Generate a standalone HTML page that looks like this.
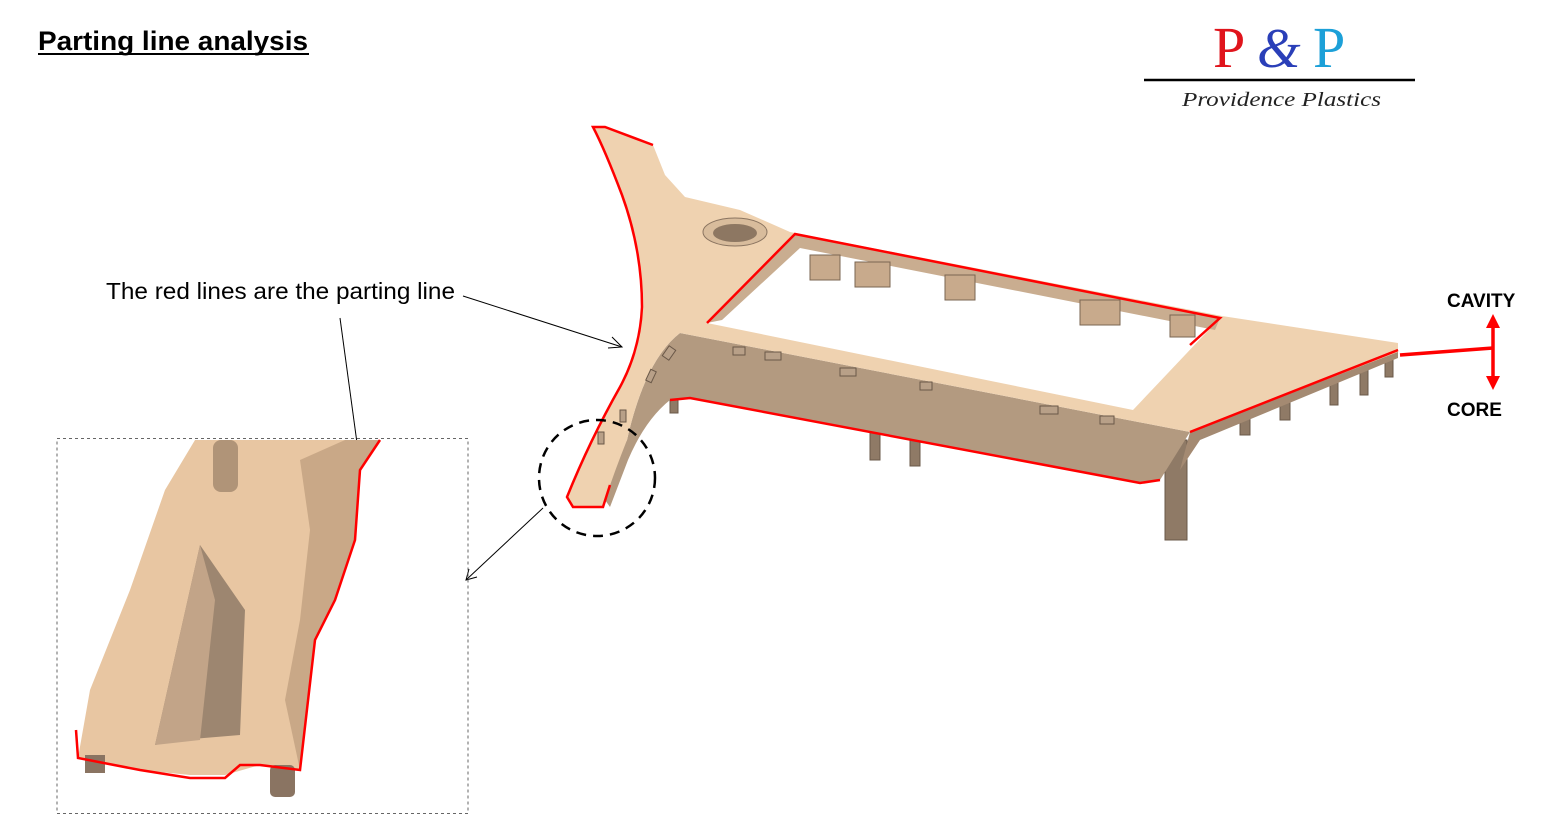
<!DOCTYPE html>
<html><head><meta charset="utf-8"><style>
html,body{margin:0;padding:0;background:#fff;width:1564px;height:827px;overflow:hidden}
svg{display:block}
</style></head><body>
<svg width="1564" height="827" viewBox="0 0 1564 827" xmlns="http://www.w3.org/2000/svg">
<text x="38" y="50" font-family="Liberation Sans, sans-serif" font-size="27" font-weight="bold" fill="#000" textLength="270" lengthAdjust="spacingAndGlyphs">Parting line analysis</text>
<line x1="38" y1="54" x2="309" y2="54" stroke="#000" stroke-width="2"/>

<!-- logo -->
<text x="1213" y="67" font-family="Liberation Serif, serif" font-size="58" fill="#e0141c">P</text>
<text x="1257" y="67" font-family="Liberation Serif, serif" font-size="56" font-style="italic" fill="#2a3fb8">&amp;</text>
<text x="1313" y="67" font-family="Liberation Serif, serif" font-size="58" fill="#1ca0d8">P</text>
<line x1="1144" y1="80" x2="1415" y2="80" stroke="#000" stroke-width="2.5"/>
<text x="1182" y="106" font-family="Liberation Serif, serif" font-style="italic" font-size="20" fill="#222" textLength="199" lengthAdjust="spacingAndGlyphs">Providence Plastics</text>

<!-- legs -->
<g fill="#8f7a66" stroke="#6a5848" stroke-width="1">
<rect x="795" y="245" width="12" height="50"/><rect x="855" y="262" width="12" height="50"/><rect x="880" y="265" width="12" height="50"/>
<rect x="1080" y="300" width="12" height="55"/><rect x="1105" y="305" width="12" height="55"/><rect x="1165" y="440" width="22" height="100"/>
<rect x="870" y="430" width="10" height="30"/><rect x="910" y="438" width="10" height="28"/><rect x="670" y="395" width="8" height="18"/>
<rect x="1330" y="380" width="8" height="25"/><rect x="1360" y="370" width="8" height="25"/><rect x="1385" y="355" width="8" height="22"/>
<rect x="1240" y="410" width="10" height="25"/><rect x="1280" y="395" width="10" height="25"/>
</g>
<!-- side band -->
<path d="M680,333 L1190,432 L1160,480 L1140,483 L690,398 L670,400 Q645,420 628,460 L610,507 L605,500 Q615,460 627,440 Q645,360 680,333 Z" fill="#b39a80"/>
<polygon points="1190,432 1398,350 1398,358 1200,440 1180,470" fill="#a48a72"/>
<!-- top face -->
<path d="M593,127 L605,127 L653,145 L665,175 L685,197 L740,210 L790,232 L1222,316 L1398,343 L1398,352 L1190,432 L680,333 Q645,360 627,440 Q615,470 605,500 L603,507 L573,507 L567,497 Q590,440 620,387 Q640,350 642,307 Q642,250 622,195 Q605,150 593,127 Z" fill="#efd2b0"/>
<!-- hole -->
<polygon points="795,234 1220,318 1133,410 707,323" fill="#fff"/>
<polygon points="795,234 1220,318 1215,330 800,248 722,320 707,323" fill="#c9ad90"/>
<g fill="#c8aa8c" stroke="#7a6552" stroke-width="1">
<rect x="810" y="255" width="30" height="25"/><rect x="855" y="262" width="35" height="25"/><rect x="945" y="275" width="30" height="25"/><rect x="1080" y="300" width="40" height="25"/><rect x="1170" y="315" width="25" height="22"/>
</g>
<g fill="#b8a088" stroke="#6a5848" stroke-width="1">
<rect x="733" y="347" width="12" height="8"/><rect x="765" y="352" width="16" height="8"/><rect x="840" y="368" width="16" height="8"/><rect x="920" y="382" width="12" height="8"/><rect x="1040" y="406" width="18" height="8"/><rect x="1100" y="416" width="14" height="8"/>
<rect x="665" y="347" width="8" height="12" transform="rotate(35 669 353)"/><rect x="648" y="370" width="6" height="12" transform="rotate(25 651 376)"/><rect x="620" y="410" width="6" height="12"/><rect x="598" y="432" width="6" height="12"/>
</g>
<ellipse cx="735" cy="232" rx="32" ry="14" fill="#d8bc9c" stroke="#8a7460"/>
<ellipse cx="735" cy="233" rx="22" ry="9" fill="#8d7762"/>
<!-- red parting lines -->
<g fill="none" stroke="#ff0000" stroke-width="2.5">
<path d="M653,145 L605,127 L593,127 Q605,150 622,195 Q642,250 642,307 Q640,350 620,387 Q590,440 567,497 L573,507 L603,507 L610,485"/>
<polyline points="670,400 690,398 1140,483 1160,480"/>
<polyline points="707,323 795,234 1220,318 1190,345"/>
<polyline points="1190,432 1398,350"/>
</g>
<!-- cavity/core -->
<line x1="1400" y1="355" x2="1493" y2="348" stroke="#ff0000" stroke-width="3.5"/>
<line x1="1493" y1="325" x2="1493" y2="380" stroke="#ff0000" stroke-width="3.5"/>
<polygon points="1493,314 1486,328 1500,328" fill="#ff0000"/>
<polygon points="1493,390 1486,376 1500,376" fill="#ff0000"/>
<text x="1447" y="307" font-family="Liberation Sans, sans-serif" font-size="19" font-weight="bold">CAVITY</text>
<text x="1447" y="416" font-family="Liberation Sans, sans-serif" font-size="19" font-weight="bold">CORE</text>

<!-- label -->
<text x="106" y="299" font-family="Liberation Sans, sans-serif" font-size="23" fill="#000" textLength="349" lengthAdjust="spacingAndGlyphs">The red lines are the parting line</text>
<g stroke="#000" stroke-width="1" fill="none">
<line x1="463" y1="296" x2="622" y2="347"/>
<polyline points="612,337 622,347 608,348"/>
<line x1="340" y1="318" x2="360" y2="465"/>
<polyline points="354,454 360,465 363,453"/>
<line x1="543" y1="508" x2="466" y2="580"/>
<polyline points="469,569 466,580 477,577"/>
</g>
<circle cx="597" cy="478" r="58" fill="none" stroke="#000" stroke-width="2.5" stroke-dasharray="10,7"/>

<!-- inset -->
<rect x="57" y="438.5" width="411" height="375" fill="none" stroke="#666" stroke-width="1" stroke-dasharray="3,3"/>
<polygon points="195,440 380,440 360,470 355,540 335,600 315,640 300,770 260,765 225,775 190,775 140,770 78,758 90,690 130,590 165,490" fill="#e8c6a2"/>
<polygon points="300,460 345,440 380,440 360,470 355,540 335,600 315,640 300,770 285,700 300,620 310,530" fill="#c9a887"/>
<polygon points="200,545 245,610 240,735 180,740 155,745" fill="#9d8670"/>
<polygon points="200,545 215,600 200,740 155,745" fill="#c2a488"/>
<rect x="213" y="440" width="25" height="52" rx="8" fill="#b09478"/>
<g fill="#8a7462"><rect x="85" y="755" width="20" height="18"/><rect x="270" y="765" width="25" height="32" rx="5"/></g>
<polyline points="380,440 360,470 355,540 335,600 315,640 300,770 260,765 240,765 225,778 190,778 140,770 78,758 76,730" fill="none" stroke="#ff0000" stroke-width="2.5"/>
</svg>
</body></html>
